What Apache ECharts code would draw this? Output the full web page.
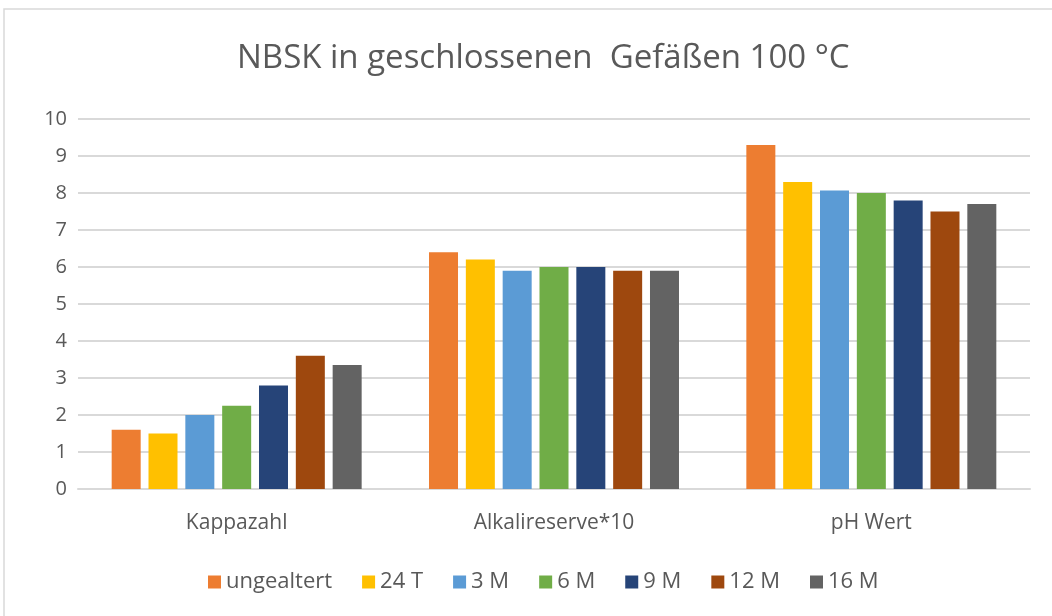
<!DOCTYPE html>
<html>
<head>
<meta charset="utf-8">
<script src="https://cdn.jsdelivr.net/npm/echarts@6/dist/echarts.min.js"></script>
<style>
  html, body { margin: 0; padding: 0; background: #fff; }
  #chart { width: 1052px; height: 616px; }
</style>
</head>
<body>
<div id="chart"></div>
<script>
// Categories on the x axis
const categories = ['Kappazahl', 'Alkalireserve*10', 'pH Wert'];

// Aging stages (series names)
const seriesNames = ['ungealtert', '24 T', '3 M', '6 M', '9 M', '12 M', '16 M'];

// Values per aging stage, in category order
const ungealtert = [1.6, 6.4, 9.3];
const t24 = [1.5, 6.2, 8.3];
const m3 = [2.0, 5.9, 8.07];
const m6 = [2.25, 6.0, 8.0];
const m9 = [2.8, 6.0, 7.8];
const m12 = [3.6, 5.9, 7.5];
const m16 = [3.35, 5.9, 7.7];

const seriesValues = [ungealtert, t24, m3, m6, m9, m12, m16];
const colors = ['#ED7D31', '#FFC000', '#5B9BD5', '#70AD47', '#264478', '#9E480E', '#636363'];

const font = '"Open Sans", sans-serif';
const textColor = '#595959';

const chart = echarts.init(document.getElementById('chart'), null, { renderer: 'canvas' });

chart.setOption({
  backgroundColor: '#fff',
  animation: false,
  color: colors,
  graphic: [{
    type: 'rect',
    shape: { x: 4, y: 9, width: 1060, height: 620 },
    style: { fill: 'none', stroke: '#d9d9d9', lineWidth: 1.5 },
    silent: true
  }],
  title: {
    text: 'NBSK in geschlossenen  Gefäßen 100 °C',
    left: 232,
    top: 37,
    textStyle: { fontFamily: font, fontSize: 33, fontWeight: 'normal', color: textColor }
  },
  legend: {
    data: seriesNames,
    bottom: 18,
    left: 203,
    itemWidth: 13,
    itemHeight: 13,
    itemGap: 30,
    icon: 'rect',
    textStyle: { fontFamily: font, fontSize: 22, color: textColor }
  },
  grid: { left: 78, right: 22, top: 119, bottom: 127, containLabel: false },
  xAxis: {
    type: 'category',
    data: categories,
    axisLine: { show: true, lineStyle: { color: '#d9d9d9', width: 2 } },
    axisTick: { show: false },
    axisLabel: { fontFamily: font, fontSize: 21, color: textColor, margin: 24 }
  },
  yAxis: {
    type: 'value',
    min: 0,
    max: 10,
    interval: 1,
    axisLine: { show: false },
    axisTick: { show: false },
    axisLabel: { fontFamily: font, fontSize: 20, color: textColor, margin: 11 },
    splitLine: { lineStyle: { color: '#d9d9d9', width: 2 } }
  },
  series: seriesNames.map((name, i) => ({
    name,
    type: 'bar',
    data: seriesValues[i],
    barWidth: 29,
    barGap: '27%',
    itemStyle: { color: colors[i] }
  }))
});
</script>
</body>
</html>
